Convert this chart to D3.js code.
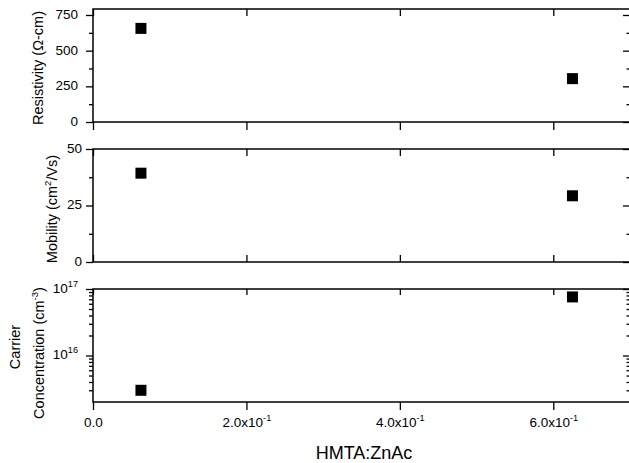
<!DOCTYPE html>
<html>
<head>
<meta charset="utf-8">
<script src="https://cdn.jsdelivr.net/npm/d3@7"></script>
<style>
body { margin: 0; background: #fff; }
svg { display: block; font-family: "Liberation Sans", Arial, sans-serif; }
</style>
</head>
<body>
<svg id="chart" width="629" height="463"></svg>
<script>
// data
const ratio = [0.0625, 0.625];
const resistivity = [656, 304];
const mobility = [39.3, 29.3];
const carrier = [3.0e15, 7.6e16];

const xTicks = [0, 0.2, 0.4, 0.6];
const xTickLabels = [["0.0", ""], ["2.0x10", "-1"], ["4.0x10", "-1"], ["6.0x10", "-1"]];

const resTicks = [0, 250, 500, 750];
const resMinor = [125, 375, 625];
const resLabels = [["0", ""], ["250", ""], ["500", ""], ["750", ""]];

const mobTicks = [0, 25, 50];
const mobMinor = [12.5, 37.5];
const mobLabels = [["0", ""], ["25", ""], ["50", ""]];

const carTicks = [1e16, 1e17];
const carMinor = [3e15, 4e15, 5e15, 6e15, 7e15, 8e15, 9e15,
    2e16, 3e16, 4e16, 5e16, 6e16, 7e16, 8e16, 9e16];
const carLabels = [["10", "16"], ["10", "17"]];

const margin = { left: 93, right: 630 };
const PANEL_H = 113;
const panelTops = [9, 149, 289];

const svg = d3.select('#chart');

const x = d3.scaleLinear()
    .domain([0, 0.7])
    .range([margin.left, margin.right]);

// write "base" + superscript into a text element
function richText(sel, base, sup, size) {
    sel.append('tspan').text(base).attr('font-size', size);
    if (sup) {
        sel.append('tspan').text(sup)
            .attr('font-size', size * 0.68)
            .attr('dy', -size * 0.45);
    }
}

const panels = [
    { values: resistivity, y: d3.scaleLinear().domain([0, 792]), ticks: resTicks, minor: resMinor,
      labels: resLabels, labelX: -15, topTick: 7, botTick: 8 },
    { values: mobility, y: d3.scaleLinear().domain([0, 50]), ticks: mobTicks, minor: mobMinor,
      labels: mobLabels, labelX: -11, topTick: 7, botTick: -7 },
    { values: carrier, y: d3.scaleLog().domain([2e15, 1e17]), ticks: carTicks, minor: carMinor,
      labels: carLabels, labelX: -15, topTick: 6, botTick: 8 }
];

panels.forEach((p, i) => {
    const top = panelTops[i], bottom = top + PANEL_H;
    p.y.range([bottom, top]);
    const g = svg.append('g');

    // left axis, major + minor, outward
    const left = g.append('g').attr('transform', `translate(${margin.left},0)`)
        .call(d3.axisLeft(p.y).tickValues(p.ticks).tickSize(7).tickFormat(''));
    g.append('g').attr('transform', `translate(${margin.left},0)`)
        .call(d3.axisLeft(p.y).tickValues(p.minor).tickSize(4).tickFormat(''));

    left.selectAll('.tick text').each(function (d, j) {
        const t = d3.select(this).text('').attr('dy', '0.34em').attr('x', p.labelX);
        richText(t, p.labels[j][0], p.labels[j][1], 13.5);
    });

    // right axis, inward
    g.append('g').attr('transform', `translate(${margin.right},0)`)
        .call(d3.axisRight(p.y).tickValues(p.ticks).tickSize(-7).tickFormat(''));
    g.append('g').attr('transform', `translate(${margin.right},0)`)
        .call(d3.axisRight(p.y).tickValues(p.minor).tickSize(-3.5).tickFormat(''));

    // top and bottom x ticks
    g.append('g').attr('transform', `translate(0,${top})`)
        .call(d3.axisTop(x).tickValues(xTicks).tickSize(-p.topTick).tickFormat(''));
    const bot = g.append('g').attr('transform', `translate(0,${bottom})`)
        .call(d3.axisBottom(x).tickValues(xTicks).tickSize(p.botTick).tickFormat(''));

    if (i === panels.length - 1) {
        bot.selectAll('.tick text').each(function (d, j) {
            const t = d3.select(this).text('').attr('dy', null).attr('y', 25);
            richText(t, xTickLabels[j][0], xTickLabels[j][1], 13.5);
        });
    }

    g.selectAll('.domain').remove();
    g.selectAll('.tick line').attr('stroke', '#000').attr('stroke-width', 1.3);
    g.selectAll('.tick text').attr('fill', '#000').attr('font-family', '"Liberation Sans", Arial, sans-serif');

    // frame
    g.append('rect')
        .attr('x', margin.left).attr('y', top)
        .attr('width', margin.right - margin.left).attr('height', PANEL_H)
        .attr('fill', 'none').attr('stroke', '#000').attr('stroke-width', 1.5);

    // points
    g.selectAll('.pt')
        .data(p.values)
        .enter()
        .append('rect')
        .attr('class', 'pt')
        .attr('x', (d, j) => x(ratio[j]) - 5.5)
        .attr('y', d => p.y(d) - 5.5)
        .attr('width', 11)
        .attr('height', 11)
        .attr('fill', '#000');
});

// axis titles
function yTitle(xPos, yMid, parts) {
    const t = svg.append('text')
        .attr('transform', `translate(${xPos},${yMid}) rotate(-90)`)
        .attr('text-anchor', 'middle')
        .attr('font-size', 14.5)
        .attr('fill', '#000');
    let raised = false;
    parts.forEach(([s, sup]) => {
        const ts = t.append('tspan').text(s);
        if (sup) {
            ts.attr('font-size', 9.5).attr('dy', raised ? 0 : -6);
            raised = true;
        } else if (raised) {
            ts.attr('dy', 6);
            raised = false;
        }
    });
}

yTitle(42.5, 68, [["Resistivity (\u03A9-cm)"]]);
yTitle(57, 209, [["Mobility (cm"], ["2", true], ["/Vs)"]]);
yTitle(19.5, 347, [["Carrier"]]);
yTitle(44, 353, [["Concentration (cm"], ["-3", true], [")"]]);

svg.append('text')
    .attr('x', 364).attr('y', 459)
    .attr('text-anchor', 'middle')
    .attr('font-size', 18)
    .attr('fill', '#000')
    .text('HMTA:ZnAc');
</script>
</body>
</html>
